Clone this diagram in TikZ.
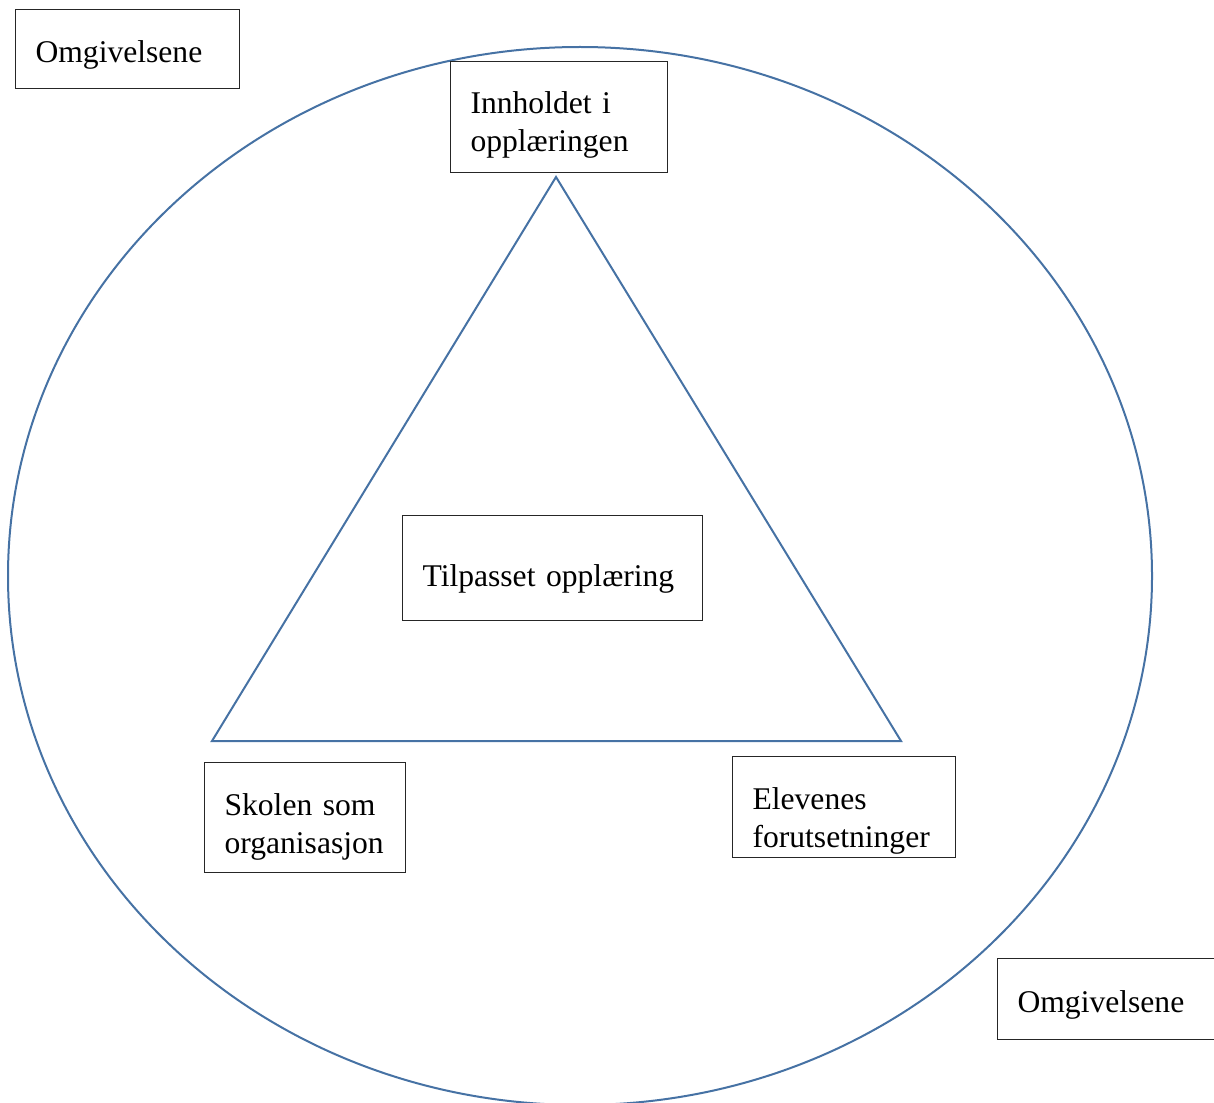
\documentclass[tikz,border=0pt]{standalone}
\usepackage{fontspec}
\setmainfont{Liberation Serif}
\usepackage{tikz}

\definecolor{kantblaa}{RGB}{70,114,164}
% skyver teksten i en boks nedover med #1
\newcommand{\ned}[1]{\rule{0pt}{\dimexpr 22pt+2\dimexpr #1\relax\relax}}

\tikzset{
  boks/.style={draw=black!85, fill=white, line width=1.1pt, anchor=north west,
    inner xsep=20pt, inner ysep=2pt, align=left,
    font=\fontsize{31.6}{38}\selectfont},
  linje/.style={draw=kantblaa, line width=2pt}
}

\begin{document}
\begin{tikzpicture}[x=1pt,y=-1pt]
  \useasboundingbox (0,0) rectangle (1214,1102);
  \clip (0,0) rectangle (1214,1102);

  % ytre sirkel og trekant
  \draw[linje] (580,576) ellipse [x radius=572, y radius=529];
  \coordinate (topp) at (556,177);
  \coordinate (venstre) at (212,741);
  \coordinate (hoyre) at (901,741);
  \draw[linje, line join=miter] (topp) -- (venstre) -- (hoyre) -- cycle;

  % boksene
  \node[boks, text width=184pt, minimum width=224pt, minimum height=79pt] (omg1) at (15,9) {\ned{6pt}Omgivelsene};
  \node[boks, text width=177pt, minimum width=217pt, minimum height=111pt] (innhold) at (450,61) {\ned{7.5pt}Innholdet i\\opplæringen};
  \node[boks, text width=260pt, minimum width=300pt, minimum height=105pt] (tilpasset) at (402,515) {\ned{11pt}Tilpasset opplæring};
  \node[boks, text width=161pt, minimum width=201pt, minimum height=110pt] (skolen) at (204,762) {\ned{9.5pt}Skolen som\\organisasjon};
  \node[boks, text width=183pt, minimum width=223pt, minimum height=101pt] (elevene) at (732,756) {\ned{13.5pt}Elevenes\\forutsetninger};
  \node[boks, text width=200pt, minimum width=240pt, minimum height=81pt] (omg2) at (997,958) {\ned{5.5pt}Omgivelsene};
\end{tikzpicture}
\end{document}
